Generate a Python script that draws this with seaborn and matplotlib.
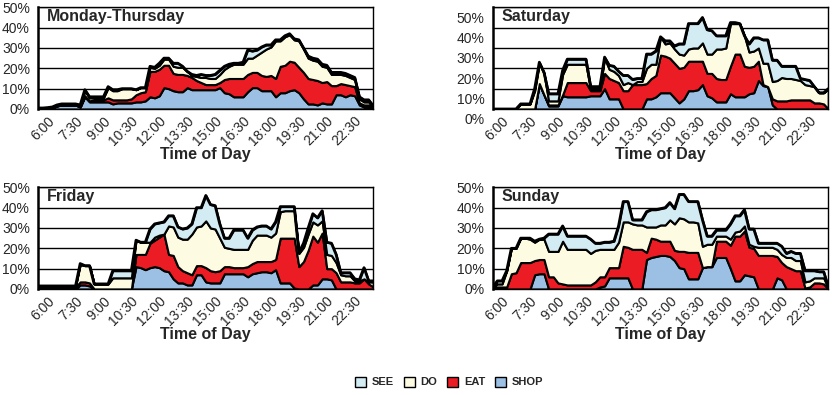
import numpy as np
import pandas as pd
import matplotlib
matplotlib.use("Agg")
import matplotlib.pyplot as plt
from matplotlib.patches import Patch
from matplotlib.transforms import ScaledTranslation
import seaborn as sns

# Quarter-hour slots, 5:15 through 23:15
n_slots = 73
tick_labels = ["6:00", "7:30", "9:00", "10:30", "12:00", "13:30",
               "15:00", "16:30", "18:00", "19:30", "21:00", "22:30"]
tick_slots = [3, 9, 15, 21, 27, 33, 39, 45, 51, 57, 63, 69]

categories = ["SEE", "DO", "EAT", "SHOP"]
palette = {"SEE": "#d3ebf3", "DO": "#fdfbe1", "EAT": "#ec1c24", "SHOP": "#9bc0e4"}

# ---- Monday-Thursday (% of visitors per activity) ----
mon_thu_shop = [0.3, 0.3, 0.5, 0.5, 1.5, 2, 2, 2, 2, 1,
                6, 3.5, 3.5, 3.5, 3.5, 3.5, 2.5, 3, 3, 3,
                3, 3.5, 3.5, 4, 6, 5.5, 6.5, 10.5, 10, 9,
                8.5, 8.5, 10.5, 9.5, 9.5, 9.5, 9.5, 9.5, 9.5, 10.5,
                8, 7.5, 6, 6, 6, 8.5, 10.5, 10.5, 9, 9,
                9, 6, 8, 8, 9, 9.5, 8, 5, 2.5, 2.5,
                2, 3, 2.5, 2.5, 7, 7, 6, 7, 6.5, 2,
                1, 1, 0.5]
mon_thu_eat = [0, 0, 0, 0, 0, 0, 0, 0, 0, 0,
               0.5, 0.5, 1, 1, 1, 2, 2, 1.5, 1.5, 1.5,
               2, 3.5, 4.5, 4.5, 12.5, 13, 13, 11, 11.5, 8.5,
               8.5, 8.5, 6, 6, 4.5, 3.5, 2.5, 2.5, 2.5, 2.5,
               6.5, 7.5, 9, 9, 9, 8.5, 7.5, 7.5, 7.5, 7,
               7.5, 9, 13, 13.5, 14.5, 13.5, 12.5, 13, 12.5, 12,
               12, 10, 11, 9, 4.5, 5.5, 6, 4.5, 4.5, 1,
               1, 1, 0.5]
mon_thu_do = [0.2, 0.2, 0.2, 0.5, 0.3, 0.3, 0.3, 0.3, 0.3, 0.5,
              2.5, 1.5, 1, 1, 1, 5, 4.5, 4.5, 5.5, 5.5,
              5, 2.5, 2.5, 2, 2, 1.5, 2, 3, 3, 3.5,
              3.5, 3.5, 2, 1, 2, 2.5, 3.5, 3, 3, 4,
              5, 6, 7, 7, 7, 8, 7, 8.5, 11.5, 13.5,
              14, 18.5, 12.5, 14, 13, 11, 13, 11.5, 10, 9.5,
              9.5, 8, 7, 5.5, 5.5, 4.5, 4.5, 4, 3.5, 2,
              1.5, 1.5, 0]
mon_thu_see = [0, 0, 0, 0, 0.2, 0.2, 0.2, 0.2, 0.2, 0.5,
               0.5, 0.5, 0.5, 0.5, 0.5, 0.5, 0.5, 0.5, 0, 0,
               0, 0, 0, 0, 0.5, 0.5, 1, 0.5, 0.5, 1.5,
               2, 0.5, 0, 0.5, 0.5, 1.5, 1, 1.5, 2, 2,
               1.5, 1, 0.5, 0.5, 1, 4, 3.5, 2.5, 2.5, 2,
               1, 0.5, 0.5, 0.5, 0.5, 0.5, 0.5, 0.5, 1, 1,
               1, 1, 1, 1, 1, 1, 1, 1, 1, 1,
               1, 1, 0.5]

# ---- Saturday ----
sat_shop = [0, 0, 0, 0, 0, 0, 0, 0, 0, 0,
            12, 7, 1.5, 1.5, 1.5, 6.5, 6, 6, 6, 6,
            6, 6.5, 6.5, 6.5, 10, 5, 5, 5, 0, 0,
            0, 0, 0, 5, 5, 6, 8, 8, 8, 5.5,
            3, 5, 9, 9, 9.5, 12, 6.5, 5.5, 3.5, 3.5,
            3.5, 7.5, 6, 6, 6, 7.5, 8, 14, 11.5, 11,
            2, 0, 0, 0, 0, 0, 0, 0, 0, 0,
            0, 0, 0]
sat_eat = [0, 0, 0, 0, 0, 0, 0, 0, 0, 0,
           0.5, 0, 0.5, 0.5, 0.5, 0.5, 7, 7, 7, 7,
           7, 2.5, 2.5, 2.5, 7.5, 10, 9, 8, 9, 9,
           12, 12, 12, 7.5, 10, 10.5, 18.5, 18, 17, 17,
           17, 15.5, 14.5, 14.5, 14, 11.5, 11, 12, 11.5, 11,
           11, 13.5, 21, 21, 15, 13, 13, 9.5, 0.5, 0,
           3, 4, 4, 4, 4.5, 4.5, 4.5, 4.5, 4.5, 3,
           3, 2.5, 0]
sat_do = [0, 0, 0, 0, 0, 0, 2.5, 2.5, 2.5, 9,
          10, 10.5, 2, 2, 2, 10, 9, 9, 9, 9,
          9, 1, 1, 1, 7.5, 4.5, 4.5, 3.5, 3, 4,
          0, 1.5, 1.5, 7.5, 7, 5.5, 9, 6, 7.5, 7,
          7, 6, 6, 6.5, 6.5, 9, 9.5, 9.5, 14.5, 15,
          15.5, 21, 15, 15, 15, 7.5, 7.5, 6.5, 10.5, 11.5,
          8.5, 10, 11.5, 11, 10.5, 10, 9.5, 7.5, 7, 8,
          5, 5.5, 10]
sat_see = [0, 0, 0, 0, 0, 0, 0, 0, 0, 1,
           0.5, 0.5, 3.5, 3.5, 3.5, 2, 2.5, 2.5, 2.5, 2.5,
           2.5, 1, 1, 1, 0.5, 2, 2.5, 2, 4.5, 3.5,
           2.5, 1.5, 1.5, 7, 5, 6.5, 0, 1.5, 1, 1.5,
           5, 5.5, 12.5, 12, 12, 12.5, 12, 11.5, 6.5, 6.5,
           6, 0.5, 0.5, 0, 0, 4, 6.5, 5, 11.5, 11.5,
           10.5, 10, 5.5, 6, 6, 6.5, 1, 2.5, 2.5, 0,
           0, 0, 0]

# ---- Friday ----
fri_shop = [0, 0, 0, 0, 0, 0, 0, 0, 0, 2,
            2, 1.5, 0, 0, 0, 0, 0, 0, 0, 0,
            0, 11, 10.5, 9.5, 10.5, 11, 10.5, 9, 8.5, 5,
            3, 3, 2, 2, 7, 7, 3.5, 3, 3, 3,
            7.5, 7.5, 7.5, 7.5, 7.5, 6, 7.5, 8, 8.5, 8.5,
            8, 9.5, 3, 3, 3, 0.5, 0, 0, 0, 2,
            2, 5, 5, 4.5, 0, 0, 0, 0, 0, 0,
            0, 0, 0]
fri_eat = [1, 1, 1, 1, 1, 1, 1, 1, 1, 1.5,
           1.5, 1.5, 0, 0, 0, 0, 0, 0, 0, 0,
           0, 6, 6.5, 7.5, 12, 13, 15, 18, 8.5, 11.5,
           8, 6, 6, 5, 4.5, 4.5, 7, 6, 5.5, 6,
           3.5, 3.5, 3, 3, 3, 5, 5, 5.5, 5, 5,
           5.5, 5, 22, 22, 22, 24.5, 11, 13.5, 19, 24,
           21, 22.5, 5, 5.5, 8, 3.5, 3.5, 3.5, 3, 3,
           5, 2.5, 1]
fri_do = [0.5, 0.5, 0.5, 0.5, 0.5, 0.5, 0.5, 0.5, 0.5, 8.5,
          8, 8.5, 2.5, 2.5, 2.5, 2.5, 5.5, 5.5, 5.5, 5.5,
          5.5, 7, 6, 6, 0.5, 1.5, 1, 0, 14, 14,
          14.5, 15.5, 16.5, 20, 19, 19.5, 23, 21, 21, 16,
          9.5, 9, 9, 9, 9, 8.5, 11.5, 13, 13, 13,
          12, 13, 13, 13.5, 13.5, 13.5, 6.5, 7, 8, 7,
          8.5, 6, 7, 6.5, 5, 3.5, 3, 3, 1, 1,
          0, 1, 2.5]
fri_see = [0, 0, 0, 0, 0, 0, 0, 0, 0, 0.5,
           0, 0, 0, 0, 0, 0, 3.5, 3.5, 3.5, 3.5,
           3.5, 0, 0, 0, 6.5, 6.5, 6, 6, 5, 5.5,
           5, 5, 5.5, 5, 9.5, 9, 12.5, 11.5, 11.5, 7,
           4.5, 5, 9.5, 9.5, 9.5, 5.5, 5, 4, 4.5, 4.5,
           4, 5.5, 2.5, 2, 2, 2, 0.5, 2, 3, 4,
           3.5, 5, 6, 6, 4, 1, 1.5, 1.5, 1, 0.5,
           5.5, 0.5, 0.5]

# ---- Sunday ----
sun_shop = [0, 0, 0, 0, 0, 0, 0, 0, 0, 7,
            7.5, 7.5, 0, 0, 0, 0, 0, 0, 0, 0,
            0, 0, 0, 1, 1.5, 5.5, 5.5, 5.5, 5.5, 5.5,
            0, 0, 0, 14.5, 15.5, 16, 16.5, 16.5, 16, 14,
            10.5, 10, 5, 5, 5, 10.5, 11, 11, 15.5, 15.5,
            15.5, 10, 4, 4, 7, 6.5, 6, 0, 0, 0,
            0, 5.5, 4.5, 0, 0, 0, 0, 0, 0, 0,
            0, 0, 0]
sun_eat = [1, 1, 1, 1, 7.5, 8, 13, 13, 13, 7,
           7, 7, 6, 6, 3, 2.5, 2, 2, 2, 2,
           2, 2, 3.5, 5, 4.5, 5, 5, 5, 15.5, 15,
           19.5, 19.5, 19.5, 3.5, 9.5, 8.5, 7, 7, 7.5, 5,
           8, 8.5, 13, 13, 13, 0, 0, 0, 8, 8,
           8, 11.5, 22, 22, 21.5, 14, 14, 16.5, 16.5, 16.5,
           16.5, 10.5, 8.5, 11, 10, 9, 9, 0.5, 1, 3,
           3, 2.5, 0]
sun_do = [0, 1.5, 1.5, 8, 12.5, 12, 12, 12, 11.5, 9,
          10, 10, 12.5, 12.5, 15.5, 21, 17.5, 17.5, 17.5, 17.5,
          17.5, 15.5, 15.5, 13.5, 13.5, 9, 9, 12.5, 12, 12.5,
          12.5, 12, 12, 12.5, 5.5, 6, 8, 8, 10.5, 13,
          16.5, 16, 15, 15, 14.5, 10.5, 11, 11, 2.5, 2.5,
          2.5, 3, 2, 2.5, 2.5, 1.5, 1, 4, 4, 4,
          4, 3.5, 4, 4.5, 5.5, 5, 5, 3, 3, 2.5,
          2.5, 3, 0.5]
sun_see = [0, 1.5, 1.5, 0, 0, 0, 0, 0, 0.5, 0.5,
           0, 0.5, 8.5, 8.5, 8.5, 7.5, 6.5, 6.5, 6.5, 6.5,
           6.5, 7, 3.5, 3, 3.5, 3.5, 4, 8, 10, 10,
           2, 2.5, 2.5, 7.5, 8.5, 8.5, 8, 8.5, 8.5, 7.5,
           11.5, 12, 10, 10, 10.5, 13, 4, 4, 3, 3,
           3, 7.5, 8, 7.5, 8, 7.5, 8.5, 2, 2, 2,
           2, 3, 4, 2, 3, 3.5, 3.5, 5.5, 5, 3.5,
           3, 3, 0.5]

panels = [
    ("Monday-Thursday", mon_thu_shop, mon_thu_eat, mon_thu_do, mon_thu_see),
    ("Saturday", sat_shop, sat_eat, sat_do, sat_see),
    ("Friday", fri_shop, fri_eat, fri_do, fri_see),
    ("Sunday", sun_shop, sun_eat, sun_do, sun_see),
]

sns.set_theme(style="white")
plt.rcParams["font.family"] = ["Liberation Sans", "DejaVu Sans"]

W, H = 832, 395
fig = plt.figure(figsize=(W / 100, H / 100), dpi=100)

# axes boxes in pixels: (left, top, right, bottom)
boxes = [(38.3, 7.3, 373.3, 109), (492.7, 7.3, 828.3, 109),
         (38.3, 187.3, 373.3, 289), (492.7, 187.3, 828.3, 289)]

for (title, shop, eat, do, see), (l, t, r, b) in zip(panels, boxes):
    ax = fig.add_axes([l / W, 1 - b / H, (r - l) / W, (b - t) / H])
    df = pd.DataFrame({"slot": np.arange(n_slots), "SHOP": shop, "EAT": eat,
                       "DO": do, "SEE": see})
    ax.stackplot(df["slot"], df["SHOP"], df["EAT"], df["DO"], df["SEE"],
                 colors=[palette["SHOP"], palette["EAT"], palette["DO"], palette["SEE"]],
                 edgecolor="black", linewidth=1.5, zorder=2)
    df["total"] = df[["SHOP", "EAT", "DO", "SEE"]].sum(axis=1)
    sns.lineplot(data=df, x="slot", y="total", color="black", linewidth=2.0,
                 ax=ax, zorder=3)

    ax.set_xlim(0, n_slots - 1)
    ax.set_ylim(0, 50)
    ax.set_yticks(range(0, 51, 10))
    ax.set_yticklabels([f"{v}%" for v in range(0, 51, 10)], fontsize=10)
    ax.set_xticks(np.arange(n_slots))
    lbls = [""] * n_slots
    for s, lab in zip(tick_slots, tick_labels):
        lbls[s] = lab
    ax.set_xticklabels(lbls, rotation=45, ha="right", va="center",
                       rotation_mode="anchor", fontsize=10)
    ax.tick_params(axis="x", direction="out", length=4, width=1, color="black", pad=3)
    ax.tick_params(axis="y", direction="out", length=5, width=1, color="black", pad=1)
    ax.yaxis.grid(True, color="black", linewidth=1.0)
    ax.xaxis.grid(False)
    ax.set_axisbelow(True)
    for name, sp in ax.spines.items():
        sp.set_visible(True)
        sp.set_color("black")
        sp.set_linewidth(1.8 if name == "left" else 1.0)
    ax.set_ylabel("")
    ax.set_xlabel("Time of Day", fontsize=11.5, fontweight="bold", va="center")
    ax.xaxis.set_label_coords(0.5, -0.45)
    ax.text(0.025, 0.985, title, transform=ax.transAxes, fontsize=11.5,
            fontweight="bold", ha="left", va="top", zorder=5)
    if title == "Saturday":
        shift = ScaledTranslation(0, -0.10, fig.dpi_scale_trans)
        for lab in ax.get_yticklabels():
            lab.set_transform(lab.get_transform() + shift)

handles = [Patch(facecolor=palette[c], edgecolor="black", linewidth=1.0) for c in categories]
fig.legend(handles, categories, loc="center", bbox_to_anchor=(449 / W, 1 - 382 / H),
           ncol=4, frameon=False, handlelength=1.0, handleheight=1.0,
           handletextpad=0.5, columnspacing=0.9,
           prop={"weight": "bold", "size": 8})

fig.savefig("out.png", dpi=100)
